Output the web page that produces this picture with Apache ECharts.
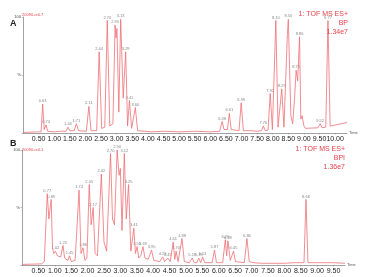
<!DOCTYPE html>
<html>
<head>
<meta charset="utf-8">
<script src="https://cdn.jsdelivr.net/npm/echarts@6/dist/echarts.min.js"></script>
<style>
  html, body { margin: 0; padding: 0; background: #fff; }
  #chart { width: 369px; height: 277px; }
</style>
</head>
<body>
<div id="chart"></div>
<script>
// Panel A trace (retention time in min, relative intensity %)
const timeA = [0, 0.5, 0.58, 0.63, 0.68, 0.74, 0.79, 1.0, 1.2, 1.38, 1.44, 1.5, 1.64, 1.71, 1.78, 2.03, 2.11, 2.18,
    2.36, 2.44, 2.52, 2.62, 2.70, 2.78, 2.88, 2.95, 2.98, 3.01, 3.07, 3.13, 3.21, 3.29, 3.35, 3.41, 3.48, 3.53, 3.60,
    3.67, 3.9, 4.1, 4.5, 5.0, 5.5, 6.0, 6.30, 6.38, 6.44, 6.55, 6.61, 6.67, 6.92, 6.99, 7.06, 7.3, 7.5, 7.64, 7.70,
    7.76, 7.85, 7.92, 7.99, 8.04, 8.10, 8.17, 8.23, 8.29, 8.36, 8.42, 8.47, 8.50, 8.58, 8.64, 8.70, 8.75, 8.80, 8.86,
    8.90, 8.94, 9.0, 9.05, 9.45, 9.52, 9.58, 9.70, 9.77, 9.84, 9.9, 10.38];
const intA = [0.5, 1, 1, 25, 3, 7, 1.5, 1, 1.5, 1.5, 5, 2, 2, 8, 2, 1.5, 23, 2,
    2, 70, 4, 5, 97, 6, 8, 93, 82, 90, 18, 98, 30, 70, 6, 28, 4, 3, 22,
    2, 1.5, 1, 1.5, 1, 1.5, 1, 1.5, 10, 3, 3, 17, 3, 2, 26, 2, 2, 1.5, 2, 6,
    2, 2.5, 34, 3, 4, 97, 5, 5, 38, 5, 6, 85, 98, 15, 8, 30, 54, 45, 83,
    12, 15, 6, 4, 4.5, 8, 4.5, 5, 97, 6, 5.5, 9];

// Panel B trace
const timeB = [0, 0.6, 0.68, 0.77, 0.82, 0.89, 0.93, 0.97, 1.02, 1.08, 1.18, 1.25, 1.30, 1.40, 1.45, 1.50, 1.62, 1.74,
    1.80, 1.86, 1.92, 1.98, 2.05, 2.11, 2.17, 2.23, 2.30, 2.42, 2.50, 2.58, 2.70, 2.76, 2.82, 2.90, 2.96, 3.00, 3.05,
    3.12, 3.18, 3.25, 3.32, 3.41, 3.46, 3.51, 3.56, 3.62, 3.69, 3.75, 3.85, 3.95, 4.02, 4.2, 4.29, 4.35, 4.45, 4.52,
    4.61, 4.66, 4.70, 4.76, 4.88, 4.95, 5.10, 5.19, 5.25, 5.33, 5.39, 5.45, 5.51, 5.57, 5.80, 5.87, 5.93, 6.12, 6.20,
    6.24, 6.28, 6.35, 6.40, 6.45, 6.51, 6.78, 6.86, 6.93, 7.05, 7.3, 8.0, 8.3, 8.60, 8.66, 8.72, 8.76, 9.0, 9.5, 9.85];
const intB = [0.5, 1, 3, 62, 40, 57, 15, 10, 12, 8, 7, 17, 6, 4, 8, 3, 4, 65,
    10, 15, 4, 6, 70, 35, 50, 10, 8, 79, 20, 12, 97, 40, 35, 100, 78, 84, 30,
    97, 40, 70, 12, 32, 10, 16, 6, 8, 16, 6, 5, 13, 4, 3, 7, 3, 6, 3,
    20, 5, 12, 3, 23, 3, 2, 6, 2, 2, 6, 2, 7, 2, 2, 13, 2, 2, 22,
    8, 21, 4, 5, 12, 3, 2, 23, 3, 2, 1.5, 1.5, 2, 2, 57, 2, 3, 2, 2, 1.5];

// labelled peaks
const peakA = [0.63, 0.74, 1.44, 1.71, 2.11, 2.44, 2.70, 2.95, 3.13, 3.29, 3.41, 3.60, 6.38, 6.61, 6.99, 7.70,
    7.92, 8.10, 8.29, 8.50, 8.75, 8.86, 9.52, 9.77];
const peakB = [0.77, 0.89, 1.02, 1.25, 1.45, 1.74, 1.86, 2.05, 2.17, 2.42, 2.70, 2.90, 3.12, 3.25, 3.41, 3.51,
    3.69, 3.95, 4.29, 4.45, 4.61, 4.70, 4.88, 5.19, 5.39, 5.51, 5.87, 6.20, 6.28, 6.45, 6.86, 8.66];

const ticksA = [0.5, 1, 1.5, 2, 2.5, 3, 3.5, 4, 4.5, 5, 5.5, 6, 6.5, 7, 7.5, 8, 8.5, 9, 9.5, 10];
const ticksB = [0.5, 1, 1.5, 2, 2.5, 3, 3.5, 4, 4.5, 5, 5.5, 6, 6.5, 7, 7.5, 8, 8.5, 9, 9.5];
const headerA = ['1: TOF MS ES+', 'BP', '1.34e7'];
const headerB = ['1: TOF MS ES+', 'BPI', '1.36e7'];

const TRACE_COLOR = '#ee7076';
const RED_TEXT = '#e8404a';

function zipPoints(t, v) {
    return t.map(function (x, i) { return [x, v[i]]; });
}
function peakPoints(peaks, t, v) {
    return peaks.map(function (p) { return [p, v[t.indexOf(p)]]; });
}

function xAxisFor(idx, max, ticks) {
    return {
        type: 'value', gridIndex: idx, min: 0, max: max,
        name: 'Time', nameLocation: 'end', nameGap: 2,
        nameTextStyle: {fontSize: 4, color: '#555', verticalAlign: 'middle'},
        axisLine: {lineStyle: {color: '#8a8a8a', width: 0.8}},
        axisTick: {show: true, length: 1.5, lineStyle: {color: '#8a8a8a', width: 0.5}, customValues: ticks},
        splitLine: {show: false},
        axisLabel: {
            customValues: ticks, margin: 3,
            fontFamily: 'Liberation Sans, Arial, sans-serif',
            fontSize: 7, color: '#222',
            formatter: function (v) { return v.toFixed(2); }
        }
    };
}
function yAxisFor(idx) {
    return {
        type: 'value', gridIndex: idx, min: 0, max: 100, interval: 50,
        axisLine: {show: true, lineStyle: {color: '#8a8a8a', width: 0.8}},
        axisTick: {show: true, length: 1.5, lineStyle: {color: '#8a8a8a', width: 0.5}},
        splitLine: {show: false},
        axisLabel: {
            fontSize: 4, color: '#444', margin: 2,
            formatter: function (v) { return v === 100 ? '100' : (v === 50 ? '%' : ''); }
        }
    };
}
function traceSeries(idx, t, v) {
    return {
        type: 'line', xAxisIndex: idx, yAxisIndex: idx, data: zipPoints(t, v),
        symbol: 'none', lineStyle: {color: TRACE_COLOR, width: 0.8}, silent: true, animation: false
    };
}
function labelSeries(idx, peaks, t, v) {
    return {
        type: 'scatter', xAxisIndex: idx, yAxisIndex: idx, data: peakPoints(peaks, t, v),
        symbolSize: 0, silent: true, animation: false,
        label: {
            show: true, position: 'top', distance: 1, fontSize: 4, color: '#666',
            formatter: function (p) { return p.value[0].toFixed(2); }
        }
    };
}
function headerTitles(lines, right, top) {
    return lines.map(function (s, i) {
        return {
            text: s, right: right, top: top + i * 9,
            textStyle: {fontSize: 7, fontWeight: 'normal', color: RED_TEXT, fontFamily: 'Liberation Sans, Arial, sans-serif'}
        };
    });
}

const chart = echarts.init(document.getElementById('chart'));
const option = {
    animation: false,
    title: [
        {text: 'A', left: 5, top: 14, textStyle: {fontSize: 9, fontWeight: 'bold', color: '#222'}},
        {text: 'B', left: 5, top: 134, textStyle: {fontSize: 9, fontWeight: 'bold', color: '#222'}},
        {text: '20090+e0.7', left: 17, top: 8, textStyle: {fontSize: 4, fontWeight: 'normal', color: RED_TEXT}},
        {text: '20090+e0.1', left: 17, top: 143, textStyle: {fontSize: 4, fontWeight: 'normal', color: RED_TEXT}}
    ].concat(headerTitles(headerA, 16, 6), headerTitles(headerB, 19, 141)),
    grid: [
        {left: 23, right: 22, top: 17, height: 116},
        {left: 22, right: 24, top: 150, height: 115}
    ],
    xAxis: [xAxisFor(0, 10.38, ticksA), xAxisFor(1, 9.85, ticksB)],
    yAxis: [yAxisFor(0), yAxisFor(1)],
    series: [
        traceSeries(0, timeA, intA),
        traceSeries(1, timeB, intB),
        labelSeries(0, peakA, timeA, intA),
        labelSeries(1, peakB, timeB, intB)
    ]
};
chart.setOption(option);

window.addEventListener('resize', function () {
    chart.resize();
});
</script>
</body>
</html>
